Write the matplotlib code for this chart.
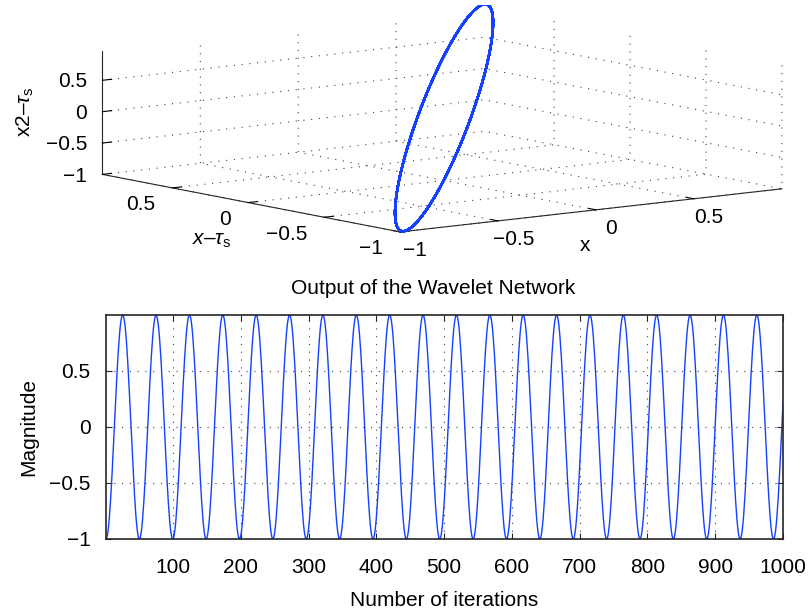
import numpy as np
import matplotlib
matplotlib.use("Agg")
import matplotlib.pyplot as plt
from matplotlib import ticker

# Values

N_ITER = 1000
PERIOD = 49.25          # iterations between two troughs of the output
FIRST_TROUGH = 1        # the output starts at -1
DELAY_1 = 1             # x~tau_s axis: output one iteration back
DELAY_2 = 2             # x2-tau_s axis: output two iterations back

TICKS_3D = [-1, -0.5, 0, 0.5]
LIM_X = (-1, 0.95)
LIM_Y = (-1, 0.96)
LIM_Z = (-1, 0.97)

ITER_TICKS = [100, 200, 300, 400, 500, 600, 700, 800, 900, 1000]
MAG_TICKS = [-1, -0.5, 0, 0.5]

BLUE = "#1440ff"
DOTS = (0, (1, 6))

plt.rcParams["font.family"] = ["Liberation Sans", "DejaVu Sans"]
plt.rcParams["mathtext.fontset"] = "custom"
plt.rcParams["mathtext.rm"] = "Liberation Sans"
plt.rcParams["mathtext.it"] = "Liberation Sans:italic"
plt.rcParams["font.size"] = 15
plt.rcParams["axes.unicode_minus"] = True

n = np.arange(1, N_ITER + 1)
output = -np.cos(2 * np.pi * (n - FIRST_TROUGH) / PERIOD)


def fmt(v, _):
    return f"{v:g}".replace("-", "\u2212")


def px(x, y):
    # pixel position in the 809x611 picture -> figure fraction
    return x / 809, 1 - y / 611


fig = plt.figure(figsize=(8.09, 6.11), dpi=100)

# 3-D phase plot
ax3 = fig.add_axes([39 / 809, 1 - 241 / 611, 800 / 809, 236 / 611], projection="3d")
ax3.set_proj_type("ortho")
ax3.plot(output[DELAY_2:], output[DELAY_2 - DELAY_1:-DELAY_1],
         output[:-DELAY_2], color=BLUE, lw=1.6)
ax3.set_xlim(*LIM_X)
ax3.set_ylim(*LIM_Y)
ax3.set_zlim(*LIM_Z)
ax3.set_box_aspect((1, 1.02, 0.26), zoom=2.87)
ax3.view_init(elev=8.5, azim=-127.4)
for axis in (ax3.xaxis, ax3.yaxis, ax3.zaxis):
    axis.set_ticks(TICKS_3D)
    axis.set_major_formatter(ticker.FuncFormatter(fmt))
    axis.set_pane_color((1, 1, 1, 0))
    axis.pane.set_edgecolor((1, 1, 1, 0))
    axis._axinfo["grid"].update(color="0.25", linewidth=0.8, linestyle=DOTS)
    axis._axinfo["tick"].update(inward_factor=0.0, outward_factor=0.3)
    axis.line.set_color("#262626")
ax3.tick_params(axis="x", pad=-3.5)
ax3.tick_params(axis="y", pad=-4)
ax3.tick_params(axis="z", pad=-6)
for lab in ax3.get_yticklabels():
    lab.set_horizontalalignment("right")
for lab in ax3.get_zticklabels():
    lab.set_horizontalalignment("right")
    lab.set_verticalalignment("center_baseline")

# axis titles of the 3-D plot, placed where the reference has them
fig.text(*px(585, 246), "x", ha="center", va="center")
fig.text(*px(212, 241), "$x$" + "\u2013" + r"$\tau_\mathrm{s}$", ha="center", va="center")
fig.text(*px(25, 112), "x2" + "\u2013" + r"$\tau_\mathrm{s}$", ha="center", va="center",
         rotation=90)

# output against iterations
ax = fig.add_axes([106 / 809, 1 - 539 / 611, 677 / 809, 224 / 611])
ax.plot(n, output, color=BLUE, lw=1.0)
ax.set_xlim(1, N_ITER)
ax.set_ylim(output.min(), output.max())
ax.set_xticks(ITER_TICKS)
ax.set_yticks(MAG_TICKS)
ax.yaxis.set_major_formatter(ticker.FuncFormatter(fmt))
ax.grid(True, color="0.25", linewidth=0.8, linestyle=DOTS)
ax.tick_params(direction="in", top=True, right=True, length=4, color="#262626")
ax.tick_params(axis="x", pad=14)
ax.tick_params(axis="y", pad=11)
for s in ax.spines.values():
    s.set_color("#262626")
    s.set_linewidth(1.2)
ax.set_title("Output of the Wavelet Network", fontsize=15, pad=15, x=0.483)
ax.set_xlabel("Number of iterations", labelpad=10)
ax.set_ylabel("Magnitude", labelpad=8)

fig.savefig("out.png", dpi=100)
